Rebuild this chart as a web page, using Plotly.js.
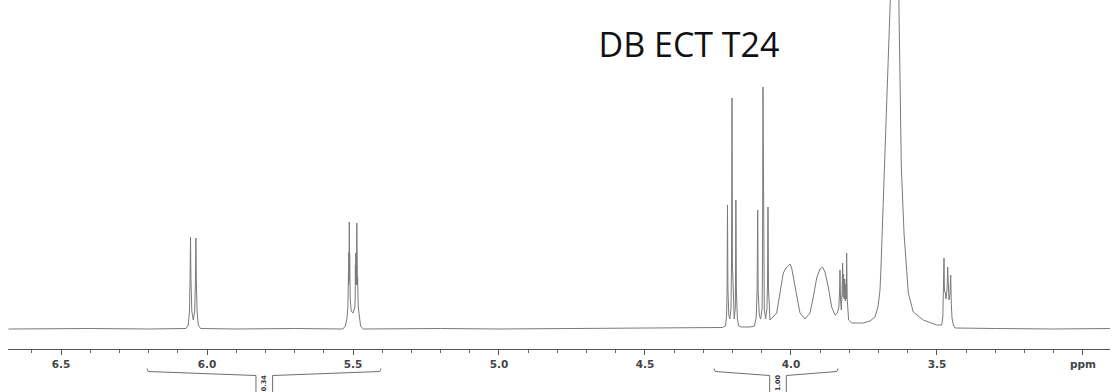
<!DOCTYPE html>
<html>
<head>
<meta charset="utf-8">
<script src="https://cdn.plot.ly/plotly-3.0.1.min.js"></script>
<style>
html,body{margin:0;padding:0;background:#fff;}
#chart{width:1114px;height:392px;}
</style>
</head>
<body>
<div id="chart"></div>
<script>
// Traced spectrum: chemical shift (ppm) and intensity (arbitrary units)
const ppm = [
6.68,6.40,6.20,6.072,6.064,6.060,6.058,6.0565,6.055,6.052,6.047,6.042,6.0395,6.038,6.0365,6.034,6.030,6.022,
5.90,5.70,5.535,5.526,5.521,5.5175,5.5155,5.5148,5.5141,5.5134,5.5127,5.5120,5.5114,5.5108,5.5102,5.5095,5.5060,5.5000,
5.4935,5.4925,5.4918,5.4911,5.4904,5.4897,5.4890,5.4882,5.4876,5.4870,5.4863,5.4857,5.4850,5.4843,5.482,5.478,5.474,5.465,
5.20,5.00,4.80,4.60,4.40,4.30,4.235,4.2245,4.2205,4.2190,4.2175,4.2160,4.2130,4.2095,4.2055,4.2035,4.2021,4.2005,4.1975,
4.1945,4.1905,4.1887,4.1870,4.1835,4.1790,4.170,4.140,4.125,4.119,4.1160,4.1140,4.1125,4.1085,4.1040,4.0990,4.0975,4.0959,
4.0943,4.0915,4.0870,4.0825,4.0805,4.0788,4.0770,4.0745,4.0719,4.0490,4.0377,4.0263,4.0171,4.0092,4.0034,3.9977,3.9920,
3.9806,3.9692,3.9521,3.9349,3.9236,3.9121,3.9007,3.8916,3.8836,3.8722,3.8607,3.8493,3.8413,3.8360,3.8335,3.8322,3.8305,
3.8276,3.8250,3.8231,3.8215,3.8200,3.8180,3.8160,3.8140,3.8120,3.8105,3.8094,3.8075,3.8050,3.8026,3.7922,3.7524,3.7295,
3.7123,3.7021,3.6952,3.6918,3.6861,3.6792,3.6724,3.6667,3.6620,3.6599,3.6540,3.6450,3.6360,3.6301,3.6267,3.6221,3.6130,
3.5982,3.5811,3.5469,3.5010,3.4839,3.4800,3.4775,3.4760,3.4745,3.4715,3.4690,3.4655,3.4634,3.4615,3.4590,3.4555,3.4531,
3.4510,3.4486,3.4440,3.4384,3.30,3.10,2.9075
];
const intensity = [
0,0.5,0,0.5,4,18,50,92,50,18,9,18,50,91,48,18,4,0.5,
0,0.5,0,3,10,22,55,44,77,48,107,56,75,44,66,30,18,16,
22,30,64,45,76,48,55,44,70,106,58,72,44,52,22,9,3,0,
0.5,0,0.5,0.5,1,1,1.5,3,14,36,124,40,14,10,20,70,231,65,20,
10,22,129,38,10,3,2,2,3,12,40,119,38,14,10,20,70,242,
68,20,10,20,44,122,40,14,9,16,36,56,61,63,65,61,52,
32,16,10,16,32,51,60,62,57,42,22,14,16,22,40,59,30,
19,38,66,32,55,30,50,28,45,30,76,30,12,9,6,6,8,
12,22,39,62,112,162,219,269,309,329,600,800,600,317,229,162,96,
36,17,9,4,4,12,40,71,38,36,30,40,62,35,29,35,54,
25,11,4,1,0.5,0,0.5
];

// Axis ticks
const tickValues = [6.5, 6.0, 5.5, 5.0, 4.5, 4.0, 3.5, 3.0];
const tickLabels = ['6.5', '6.0', '5.5', '5.0', '4.5', '4.0', '3.5', 'ppm'];

// Integral regions
const integralStart = [6.2055, 4.2637];
const integralEnd = [5.4041, 3.8390];
const integralCenter = [5.8038, 4.0445];
const integralValues = ['0.34', '1.00'];

const titleText = 'DB ECT T24';

// --- styling helpers ---
const plotH = 349;
const py = v => (plotH - v) / plotH; // pixel row -> paper y
const gap = 0.0285, tipOff = 0.004;
const bracketColor = '#6e6e6e';

const shapes = integralStart.map((s, i) => {
  const e = integralEnd[i], c = integralCenter[i];
  const yTip = py(368.5), yArm = py(371.5), yMid = py(375.5), yBot = py(400);
  const path = `M${s},${yTip} L${s - tipOff},${yArm} L${c + gap},${yMid} L${c + gap},${yBot} ` +
               `M${c - gap},${yBot} L${c - gap},${yMid} L${e + tipOff},${yArm} L${e},${yTip}`;
  return {type: 'path', xref: 'x', yref: 'paper', path: path,
          line: {color: bracketColor, width: 1}};
});

const annotations = integralValues.map((t, i) => ({
  xref: 'x', yref: 'paper', x: integralCenter[i], y: py(383),
  text: t, showarrow: false, textangle: -90, borderpad: 0,
  font: {family: 'DejaVu Sans', size: 6.5, color: '#333', weight: 'bold'},
  xanchor: 'center', yanchor: 'middle'
}));

const trace = {
  x: ppm, y: intensity, type: 'scatter', mode: 'lines',
  line: {color: '#7a7a7a', width: 1}, hoverinfo: 'skip'
};

const layout = {
  width: 1114, height: 392,
  margin: {l: 8, r: 4, t: 0, b: 43},
  paper_bgcolor: '#fff', plot_bgcolor: '#fff',
  showlegend: false,
  title: {
    text: titleText, xref: 'container', yref: 'container',
    x: 0.6185, y: 0.885, xanchor: 'center', yanchor: 'middle',
    font: {family: 'Open Sans', size: 34, color: '#111'}
  },
  xaxis: {
    range: [6.6815, 2.9075], showgrid: false, zeroline: false,
    showline: true, linecolor: '#555', linewidth: 1,
    ticks: 'outside', ticklen: 5, tickcolor: '#555', tickwidth: 1,
    tickvals: tickValues, ticktext: tickLabels,
    tickfont: {family: 'DejaVu Sans', size: 10.5, color: '#444', weight: 'bold'},
    minor: {dtick: 0.1, tick0: 0, ticks: 'outside', ticklen: 3, tickcolor: '#666', showgrid: false},
    fixedrange: true
  },
  yaxis: {range: [-20, 329], visible: false, showgrid: false, zeroline: false, fixedrange: true},
  shapes: shapes,
  annotations: annotations
};

Plotly.newPlot('chart', [trace], layout, {displayModeBar: false, staticPlot: true});
</script>
</body>
</html>
